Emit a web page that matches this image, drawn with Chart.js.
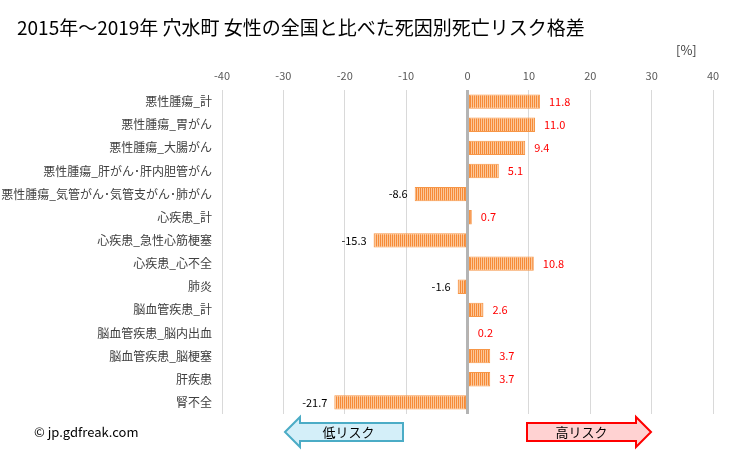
<!DOCTYPE html>
<html>
<head>
<meta charset="utf-8">
<script src="https://cdn.jsdelivr.net/npm/chart.js@4"></script>
<style>
  body { margin: 0; background: #fff; }
</style>
</head>
<body>
<canvas id="riskChart" width="729" height="450"></canvas>
<script>
const causes = [
  "悪性腫瘍_計", "悪性腫瘍_胃がん", "悪性腫瘍_大腸がん", "悪性腫瘍_肝がん･肝内胆管がん",
  "悪性腫瘍_気管がん･気管支がん･肺がん", "心疾患_計", "心疾患_急性心筋梗塞", "心疾患_心不全",
  "肺炎", "脳血管疾患_計", "脳血管疾患_脳内出血", "脳血管疾患_脳梗塞", "肝疾患", "腎不全"
];
const riskDiff = [11.8, 11.0, 9.4, 5.1, -8.6, 0.7, -15.3, 10.8, -1.6, 2.6, 0.2, 3.7, 3.7, -21.7];
const xTicks = [-40, -30, -20, -10, 0, 10, 20, 30, 40];

const JP = '"Noto Sans CJK JP", "Noto Sans", sans-serif';

// 縦縞のバー塗り
function stripePattern() {
  const c = document.createElement("canvas");
  c.width = 2; c.height = 4;
  const g = c.getContext("2d");
  g.fillStyle = "#f68a38"; g.fillRect(0, 0, 1, 4);
  g.fillStyle = "#fcc899"; g.fillRect(1, 0, 1, 4);
  return g.createPattern(c, "repeat");
}

const labelPlugin = {
  id: "barLabels",
  afterDatasetsDraw(chart) {
    const ctx = chart.ctx;
    const meta = chart.getDatasetMeta(0);
    ctx.save();
    ctx.font = "11px " + JP;
    ctx.textBaseline = "middle";
    meta.data.forEach((bar, i) => {
      const v = riskDiff[i];
      if (v >= 0) {
        ctx.fillStyle = "#ff0000";
        ctx.textAlign = "left";
        ctx.fillText(v.toFixed(1), bar.x + 9, bar.y);
      } else {
        ctx.fillStyle = "#000000";
        ctx.textAlign = "right";
        ctx.fillText(v.toFixed(1), bar.x - 7, bar.y);
      }
    });
    ctx.restore();
  }
};

function arrow(ctx, x0, x1, y, dir, fill, stroke, text) {
  // 矢印: x0〜x1、dir側に頭
  const bh = 9, hh = 15, hl = 15;
  ctx.beginPath();
  if (dir < 0) {
    ctx.moveTo(x0, y);
    ctx.lineTo(x0 + hl, y - hh);
    ctx.lineTo(x0 + hl, y - bh);
    ctx.lineTo(x1, y - bh);
    ctx.lineTo(x1, y + bh);
    ctx.lineTo(x0 + hl, y + bh);
    ctx.lineTo(x0 + hl, y + hh);
  } else {
    ctx.moveTo(x1, y);
    ctx.lineTo(x1 - hl, y - hh);
    ctx.lineTo(x1 - hl, y - bh);
    ctx.lineTo(x0, y - bh);
    ctx.lineTo(x0, y + bh);
    ctx.lineTo(x1 - hl, y + bh);
    ctx.lineTo(x1 - hl, y + hh);
  }
  ctx.closePath();
  ctx.fillStyle = fill;
  ctx.fill();
  ctx.lineWidth = 2;
  ctx.strokeStyle = stroke;
  ctx.stroke();
  ctx.fillStyle = "#000";
  ctx.font = "13px " + JP;
  ctx.textAlign = "center";
  ctx.textBaseline = "middle";
  const cx = dir < 0 ? (x0 + hl + x1) / 2 - 3 : (x0 + x1 - hl) / 2;
  ctx.fillText(text, cx, y);
}

const decorPlugin = {
  id: "decor",
  afterDraw(chart) {
    const ctx = chart.ctx;
    ctx.save();
    ctx.fillStyle = "#000";
    ctx.font = "19px " + JP;
    ctx.textBaseline = "middle";
    ctx.textAlign = "left";
    ctx.fillText("2015年～2019年 穴水町 女性の全国と比べた死因別死亡リスク格差", 17, 28);
    ctx.font = "13px " + JP;
    ctx.fillStyle = "#404040";
    ctx.fillText("[%]", 676, 50);
    ctx.fillStyle = "#000";
    ctx.fillText("© jp.gdfreak.com", 34, 432);
    arrow(ctx, 285, 403, 432, -1, "#d4eff9", "#4bacc6", "低リスク");
    arrow(ctx, 527, 651, 432, 1, "#ffd2d2", "#ff0000", "高リスク");
    ctx.restore();
  }
};

new Chart(document.getElementById("riskChart"), {
  type: "bar",
  data: {
    labels: causes,
    datasets: [{
      data: riskDiff,
      backgroundColor: stripePattern(),
      borderColor: "#f79646",
      borderWidth: 1,
      borderSkipped: false,
      barPercentage: 0.62,
      categoryPercentage: 1.0
    }]
  },
  options: {
    indexAxis: "y",
    responsive: false,
    animation: false,
    maintainAspectRatio: false,
    layout: { padding: { top: 64, right: 16, bottom: 36, left: 0 } },
    plugins: { legend: { display: false }, tooltip: { enabled: false } },
    scales: {
      x: {
        position: "top",
        min: -40,
        max: 40,
        afterBuildTicks(scale) { scale.ticks = xTicks.map(v => ({ value: v })); },
        afterFit(scale) { scale.height = 26; },
        ticks: {
          color: "#595959",
          font: { size: 11, family: JP },
          padding: 8,
          maxRotation: 0
        },
        grid: {
          drawTicks: false,
          color: ctx => ctx.tick && ctx.tick.value === 0 ? "#b4b4b4" : "#d9d9d9",
          lineWidth: ctx => ctx.tick && ctx.tick.value === 0 ? 3 : 1
        },
        border: { display: false }
      },
      y: {
        afterFit(scale) { scale.width = 222; },
        ticks: {
          color: "#404040",
          font: { size: 12, family: JP },
          padding: 10,
          autoSkip: false
        },
        grid: { display: false, drawTicks: false },
        border: { display: false }
      }
    }
  },
  plugins: [labelPlugin, decorPlugin]
});
</script>
</body>
</html>
